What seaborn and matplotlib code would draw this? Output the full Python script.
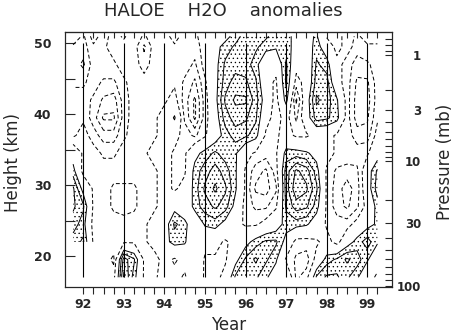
import numpy as np
import matplotlib
matplotlib.use("Agg")
import matplotlib.pyplot as plt
import seaborn as sns

nan = np.nan

# Sampling of the anomaly field: quarter-year steps, heights in km
years = np.arange(91.75, 99.26, 0.25)
heights = [17, 19.5, 22, 24.5, 27, 29.5, 32, 34.5, 37, 39.5, 42, 44.5, 47, 49.5, 51]

# H2O anomalies (ppmv), one list per height level, 91.75 ... 99.25
anom_17km = [nan, nan, nan, -0.12, -0.15, 0.42, 0.15, -0.12, -0.12, -0.05, -0.05, -0.12, 0.02, -0.12, -0.15, -0.05,
             0.22, 0.25, 0.22, 0.12, 0.02, 0.05, -0.22, -0.15, 0.22, 0.32, 0.32, 0.22, 0.12, -0.05, -0.12]
anom_19p5km = [nan, nan, nan, -0.15, -0.22, 0.35, 0.22, -0.12, -0.15, -0.05, -0.12, -0.05, 0.05, -0.12, -0.12, -0.12,
               0.05, 0.22, 0.32, 0.22, 0.12, -0.12, -0.22, -0.25, -0.05, 0.15, 0.22, 0.32, 0.25, 0.12, -0.05]
anom_22km = [0.15, 0.22, -0.12, -0.15, -0.15, -0.12, -0.12, -0.12, -0.05, 0.05, 0.15, 0.12, -0.05, -0.05, -0.05, -0.12,
             -0.05, 0.05, 0.15, 0.22, 0.22, 0.05, -0.15, -0.15, -0.12, -0.05, -0.15, 0.02, 0.15, 0.25, 0.12]
anom_24p5km = [0.25, 0.15, -0.15, -0.15, -0.15, -0.15, -0.15, -0.12, -0.05, 0.02, 0.22, 0.15, -0.05, 0.12, 0.15, 0.05,
               -0.05, -0.12, -0.12, -0.05, 0.02, 0.15, 0.15, 0.12, 0.02, -0.12, -0.15, -0.15, -0.05, 0.05, 0.12]
anom_27km = [0.32, 0.22, -0.12, -0.15, -0.22, -0.25, -0.22, -0.15, -0.12, -0.05, 0.05, -0.05, 0.15, 0.25, 0.32, 0.25,
             0.05, -0.15, -0.22, -0.22, -0.12, 0.22, 0.35, 0.32, 0.15, -0.12, -0.25, -0.32, -0.22, -0.05, 0.15]
anom_29p5km = [0.32, 0.05, -0.12, -0.15, -0.22, -0.22, -0.22, -0.15, -0.12, -0.05, -0.12, -0.05, 0.15, 0.32, 0.42, 0.32,
               0.12, -0.12, -0.32, -0.35, -0.22, 0.25, 0.48, 0.42, 0.22, -0.12, -0.25, -0.35, -0.25, 0.02, 0.25]
anom_32km = [0.15, -0.15, -0.12, -0.15, -0.15, -0.15, -0.15, -0.15, -0.12, -0.05, -0.12, -0.12, 0.15, 0.25, 0.35, 0.25,
             0.12, -0.12, -0.25, -0.32, -0.15, 0.25, 0.42, 0.35, 0.15, -0.12, -0.22, -0.25, -0.22, 0.02, 0.22]
anom_34p5km = [0.02, -0.12, -0.15, -0.22, -0.22, -0.15, -0.15, -0.12, -0.05, -0.05, -0.12, -0.12, 0.05, 0.15, 0.22, 0.15,
               0.12, -0.05, -0.12, -0.15, -0.12, 0.15, 0.15, 0.12, 0.05, -0.05, -0.12, -0.12, -0.15, -0.12, 0.02]
anom_37km = [-0.22, -0.15, -0.25, -0.35, -0.35, -0.22, -0.15, -0.12, -0.12, -0.05, -0.05, -0.15, -0.22, -0.12, 0.02, 0.15,
             0.25, 0.22, 0.15, -0.12, -0.12, -0.05, -0.12, -0.12, -0.05, -0.05, -0.12, -0.15, -0.25, -0.25, -0.05]
anom_39p5km = [-0.22, -0.22, -0.35, -0.52, -0.52, -0.25, -0.15, -0.12, -0.12, -0.05, 0.12, -0.22, -0.42, -0.15, 0.02, 0.25,
               0.35, 0.32, 0.22, -0.05, -0.15, -0.05, -0.22, 0.02, 0.25, 0.22, 0.15, -0.15, -0.35, -0.32, -0.12]
anom_42km = [-0.25, -0.25, -0.32, -0.42, -0.45, -0.25, -0.15, -0.12, -0.15, -0.12, -0.05, -0.25, -0.42, -0.15, 0.05, 0.32,
             0.42, 0.42, 0.25, 0.02, -0.15, 0.15, -0.32, 0.02, 0.32, 0.25, 0.12, -0.15, -0.35, -0.35, -0.15]
anom_44p5km = [-0.32, -0.32, -0.25, -0.32, -0.32, -0.22, -0.15, -0.15, -0.15, -0.12, -0.12, -0.22, -0.32, -0.12, 0.05, 0.25,
               0.35, 0.32, 0.22, -0.05, -0.12, 0.22, -0.15, -0.05, 0.25, 0.25, -0.05, -0.15, -0.32, -0.32, -0.15]
anom_47km = [-0.35, -0.42, -0.25, -0.22, -0.22, -0.15, -0.15, -0.25, -0.15, -0.12, -0.12, -0.15, -0.22, -0.05, 0.05, 0.22,
             0.25, 0.25, 0.15, -0.05, -0.05, 0.22, -0.05, -0.05, 0.22, 0.15, -0.05, -0.15, -0.25, -0.22, -0.15]
anom_49p5km = [-0.32, -0.35, -0.22, -0.22, -0.15, -0.15, -0.15, -0.32, -0.15, -0.15, -0.12, -0.12, -0.15, -0.05, 0.05, 0.15,
               0.22, 0.25, 0.22, 0.15, 0.12, 0.15, 0.05, 0.02, 0.15, 0.02, -0.15, -0.05, -0.15, -0.12, -0.12]
anom_51km = [-0.22, -0.32, -0.15, -0.25, -0.15, -0.22, -0.12, -0.22, -0.12, -0.15, -0.05, -0.15, -0.12, -0.05, 0.02, 0.05,
             0.15, 0.25, 0.25, 0.22, 0.15, 0.15, 0.05, 0.05, 0.12, -0.12, -0.15, -0.05, -0.12, -0.05, -0.05]

neg_levels = [-0.6, -0.5, -0.4, -0.3, -0.2, -0.1]
pos_levels = [0.1, 0.2, 0.3, 0.4, 0.5]
stipple_min = 0.1

year_marks = [92, 93, 94, 95, 96, 97, 98, 99]
quarter_ticks = np.arange(92, 99.26, 0.25)

# Pressure axis: pressure (mb) against log-pressure height (km)
p_anchor = [0.5, 1, 3, 10, 30, 100]
z_anchor = [52.8, 48.3, 40.6, 33.4, 24.6, 15.8]
p_major = [1, 3, 10, 30, 100]
p_minor = [0.7, 0.8, 0.9, 2, 4, 5, 6, 7, 8, 9, 20, 40, 50, 60, 70, 80, 90]


def p_to_z(p):
    lp = np.log10(np.asarray(p, dtype=float))
    return np.interp(lp, np.log10(p_anchor), z_anchor)


sns.set_style("white")
plt.rcParams["font.family"] = ["DejaVu Sans"]
plt.rcParams["hatch.color"] = "black"
plt.rcParams["hatch.linewidth"] = 0.45
plt.rcParams["lines.dashed_pattern"] = [4.0, 2.5]

anom = np.array([anom_17km, anom_19p5km, anom_22km, anom_24p5km, anom_27km, anom_29p5km, anom_32km,
                 anom_34p5km, anom_37km, anom_39p5km, anom_42km, anom_44p5km, anom_47km, anom_49p5km,
                 anom_51km])
T, Z = np.meshgrid(years, heights)

fig = plt.figure(figsize=(4.6, 3.33), dpi=100)
ax = fig.add_axes([0.1413, 0.139, 0.7109, 0.7649])

# stippling over the positive anomalies
dots = ax.contourf(T, Z, anom, levels=[stipple_min, 5.0], colors="none", hatches=["...."])
dots.set_edgecolor("black")
dots.set_linewidth(0)
ax.contour(T, Z, anom, levels=neg_levels, colors="k", linewidths=0.7, linestyles="dashed")
ax.contour(T, Z, anom, levels=pos_levels, colors="k", linewidths=0.7, linestyles="solid")

# year boundaries
ax.vlines(year_marks, 17, 50, colors="k", linewidth=0.8)

ax.set_xlim(91.55, 99.61)
ax.set_ylim(15.67, 51.6)

for s in ax.spines.values():
    s.set_linewidth(0.8)
    s.set_color("k")

ax.set_xticks(year_marks)
ax.set_xticklabels([str(y) for y in year_marks])
ax.set_xticks(quarter_ticks, minor=True)
ax.tick_params(axis="x", which="both", direction="out", length=5, width=0.8, bottom=True, top=False,
               labelsize=9, pad=3)
ax.set_yticks([20, 30, 40, 50])
ax.set_yticks([25, 35, 45], minor=True)
ax.tick_params(axis="y", which="both", direction="in", length=7, width=0.8, left=True, right=False,
               labelsize=9, pad=10)
for lab in ax.get_xticklabels() + ax.get_yticklabels():
    lab.set_fontweight("bold")

top = ax.secondary_xaxis("top")
top.set_xticks(quarter_ticks)
top.set_xticklabels([])
top.tick_params(direction="in", length=4, width=0.8)

ax2 = ax.twinx()
ax2.set_ylim(ax.get_ylim())
ax2.set_yticks(p_to_z(p_major))
ax2.set_yticklabels([str(p) for p in p_major])
ax2.set_yticks(p_to_z(p_minor), minor=True)
ax2.tick_params(axis="y", which="both", direction="in", length=5, width=0.8, labelsize=8.5, pad=21)
for lab in ax2.get_yticklabels():
    lab.set_horizontalalignment("right")
    lab.set_fontweight("bold")
for s in ax2.spines.values():
    s.set_linewidth(0.8)

fig.text(223.5 / 460, 1 - 11 / 333, "HALOE    H2O    anomalies", ha="center", va="center", fontsize=13)
fig.text(229 / 460, 1 - 325 / 333, "Year", ha="center", va="center", fontsize=12)
fig.text(13 / 460, 1 - 162 / 333, "Height (km)", ha="center", va="center", rotation=90, fontsize=12)
fig.text(445 / 460, 1 - 162 / 333, "Pressure (mb)", ha="center", va="center", rotation=90, fontsize=12)

fig.savefig("out.png", dpi=100)
